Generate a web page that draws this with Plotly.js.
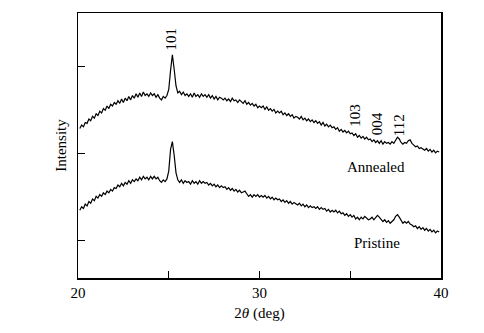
<!DOCTYPE html>
<html>
<head>
<meta charset="utf-8">
<script src="https://cdn.plot.ly/plotly-3.0.1.min.js"></script>
<style>html,body{margin:0;padding:0;background:#fff;}#chart{width:484px;height:333px;}</style>
</head>
<body>
<div id="chart"></div>
<script>
const twoTheta = [
20.1,20.2,20.3,20.4,20.5,20.6,20.7,20.8,20.9,21.0,
21.1,21.2,21.3,21.4,21.5,21.6,21.7,21.8,21.9,22.0,
22.1,22.2,22.3,22.4,22.5,22.6,22.7,22.8,22.9,23.0,
23.1,23.2,23.3,23.4,23.5,23.6,23.7,23.8,23.9,24.0,
24.1,24.2,24.3,24.4,24.5,24.6,24.7,24.8,24.9,25.0,
25.1,25.2,25.3,25.4,25.5,25.6,25.7,25.8,25.9,26.0,
26.1,26.2,26.3,26.4,26.5,26.6,26.7,26.8,26.9,27.0,
27.1,27.2,27.3,27.4,27.5,27.6,27.7,27.8,27.9,28.0,
28.1,28.2,28.3,28.4,28.5,28.6,28.7,28.8,28.9,29.0,
29.1,29.2,29.3,29.4,29.5,29.6,29.7,29.8,29.9,30.0,
30.1,30.2,30.3,30.4,30.5,30.6,30.7,30.8,30.9,31.0,
31.1,31.2,31.3,31.4,31.5,31.6,31.7,31.8,31.9,32.0,
32.1,32.2,32.3,32.4,32.5,32.6,32.7,32.8,32.9,33.0,
33.1,33.2,33.3,33.4,33.5,33.6,33.7,33.8,33.9,34.0,
34.1,34.2,34.3,34.4,34.5,34.6,34.7,34.8,34.9,35.0,
35.1,35.2,35.3,35.4,35.5,35.6,35.7,35.8,35.9,36.0,
36.1,36.2,36.3,36.4,36.5,36.6,36.7,36.8,36.9,37.0,
37.1,37.2,37.3,37.4,37.5,37.6,37.7,37.8,37.9,38.0,
38.1,38.2,38.3,38.4,38.5,38.6,38.7,38.8,38.9,39.0,
39.1,39.2,39.3,39.4,39.5,39.6,39.7,39.8,39.9
];
const annealed = [
1.29,1.33,1.31,1.36,1.35,1.40,1.38,1.43,1.41,1.46,
1.44,1.49,1.47,1.52,1.50,1.55,1.52,1.57,1.55,1.59,
1.57,1.61,1.58,1.63,1.59,1.64,1.61,1.66,1.62,1.67,
1.64,1.69,1.65,1.70,1.66,1.71,1.67,1.69,1.66,1.70,
1.67,1.69,1.65,1.68,1.64,1.62,1.66,1.64,1.67,1.74,
1.96,2.14,1.97,1.78,1.70,1.72,1.68,1.71,1.67,1.69,
1.66,1.69,1.65,1.70,1.66,1.68,1.65,1.69,1.66,1.68,
1.65,1.68,1.64,1.67,1.63,1.66,1.62,1.65,1.64,1.62,
1.64,1.61,1.63,1.60,1.64,1.61,1.62,1.59,1.62,1.60,
1.58,1.61,1.57,1.59,1.56,1.58,1.55,1.57,1.53,1.55,
1.53,1.55,1.51,1.54,1.50,1.52,1.49,1.51,1.47,1.49,
1.47,1.49,1.45,1.47,1.44,1.46,1.43,1.45,1.41,1.43,
1.42,1.40,1.43,1.39,1.41,1.38,1.40,1.37,1.39,1.36,
1.38,1.35,1.37,1.33,1.36,1.32,1.34,1.31,1.33,1.30,
1.31,1.28,1.30,1.26,1.28,1.25,1.27,1.24,1.26,1.23,
1.24,1.21,1.23,1.19,1.21,1.18,1.20,1.17,1.19,1.16,
1.17,1.14,1.16,1.13,1.15,1.12,1.15,1.11,1.14,1.12,
1.13,1.11,1.14,1.12,1.15,1.19,1.17,1.13,1.11,1.13,
1.12,1.15,1.16,1.12,1.10,1.08,1.09,1.06,1.07,1.05,
1.04,1.06,1.03,1.05,1.02,1.04,1.01,1.03,1.02
];
const pristine = [
0.35,0.39,0.37,0.42,0.40,0.45,0.43,0.48,0.46,0.51,
0.49,0.53,0.51,0.55,0.53,0.57,0.55,0.59,0.57,0.61,
0.60,0.64,0.62,0.66,0.63,0.67,0.65,0.69,0.66,0.70,
0.68,0.71,0.69,0.73,0.70,0.74,0.71,0.73,0.70,0.74,
0.71,0.74,0.71,0.73,0.69,0.67,0.70,0.68,0.71,0.80,
1.05,1.14,0.98,0.78,0.70,0.67,0.70,0.66,0.69,0.67,
0.68,0.65,0.69,0.66,0.68,0.65,0.69,0.66,0.68,0.66,
0.67,0.64,0.66,0.63,0.65,0.62,0.64,0.61,0.63,0.61,
0.62,0.59,0.61,0.58,0.60,0.57,0.59,0.56,0.58,0.55,
0.56,0.57,0.54,0.51,0.53,0.50,0.53,0.51,0.53,0.50,
0.52,0.50,0.52,0.49,0.51,0.48,0.50,0.47,0.49,0.47,
0.48,0.45,0.47,0.44,0.46,0.43,0.45,0.42,0.44,0.42,
0.41,0.43,0.40,0.42,0.39,0.41,0.38,0.40,0.38,0.39,
0.37,0.39,0.36,0.38,0.36,0.37,0.34,0.36,0.33,0.35,
0.33,0.35,0.32,0.34,0.31,0.32,0.29,0.31,0.28,0.30,
0.27,0.29,0.25,0.27,0.24,0.27,0.25,0.28,0.26,0.24,
0.25,0.27,0.24,0.26,0.29,0.27,0.24,0.22,0.24,0.21,
0.23,0.20,0.22,0.24,0.28,0.30,0.27,0.23,0.20,0.22,
0.20,0.22,0.19,0.18,0.16,0.17,0.14,0.16,0.13,0.15,
0.12,0.14,0.11,0.13,0.10,0.12,0.09,0.11,0.10
];
const xTickVals = [20, 25, 30, 35, 40];
const xTickText = ["20", "", "30", "", "40"];
const yTickVals = [0, 1, 2];
const peakLabels = ["101", "103", "004", "112"];
const peakX = [25.15, 35.26, 36.47, 37.69];
const peakY = [2.32, 1.45, 1.35, 1.33];
const curveNames = ["Annealed", "Pristine"];
const curveLabelX = [36.42, 36.47];
const curveLabelY = [0.85, -0.03];

const serif = "Liberation Serif, Times New Roman, serif";
const lineStyle = {color: "#000", width: 1.2};
const traces = [
  {x: twoTheta, y: annealed, type: "scatter", mode: "lines", line: lineStyle, name: curveNames[0], hoverinfo: "skip"},
  {x: twoTheta, y: pristine, type: "scatter", mode: "lines", line: lineStyle, name: curveNames[1], hoverinfo: "skip"}
];
const annotations = [];
peakLabels.forEach((t, i) => annotations.push({
  x: peakX[i], y: peakY[i], xref: "x", yref: "y", text: t, showarrow: false,
  textangle: -90, font: {family: serif, size: 15, color: "#000"}
}));
curveNames.forEach((t, i) => annotations.push({
  x: curveLabelX[i], y: curveLabelY[i], xref: "x", yref: "y", text: t, showarrow: false,
  font: {family: serif, size: 15, color: "#000"}
}));
const layout = {
  width: 484, height: 333,
  margin: {l: 78, r: 43, t: 13, b: 55},
  paper_bgcolor: "#fff", plot_bgcolor: "#fff",
  showlegend: false,
  font: {family: serif, size: 15, color: "#000"},
  xaxis: {
    range: [20, 40], tickmode: "array", tickvals: xTickVals, ticktext: xTickText,
    ticks: "inside", ticklen: 7, tickwidth: 1.2, tickcolor: "#000",
    showline: true, linecolor: "#000", linewidth: 1.5, mirror: true,
    showgrid: false, zeroline: false,
    tickfont: {family: serif, size: 15, color: "#000"},
    title: {text: "2<i>θ</i> (deg)", font: {family: serif, size: 15, color: "#000"}, standoff: 8}
  },
  yaxis: {
    range: [-0.43, 2.62], tickmode: "array", tickvals: yTickVals, showticklabels: false,
    ticks: "inside", ticklen: 7, tickwidth: 1.2, tickcolor: "#000",
    showline: true, linecolor: "#000", linewidth: 1.5, mirror: true,
    showgrid: false, zeroline: false,
    title: {text: "Intensity", font: {family: serif, size: 15, color: "#000"}, standoff: 6}
  },
  annotations: annotations
};
Plotly.newPlot("chart", traces, layout, {displayModeBar: false, staticPlot: true});
</script>
</body>
</html>
